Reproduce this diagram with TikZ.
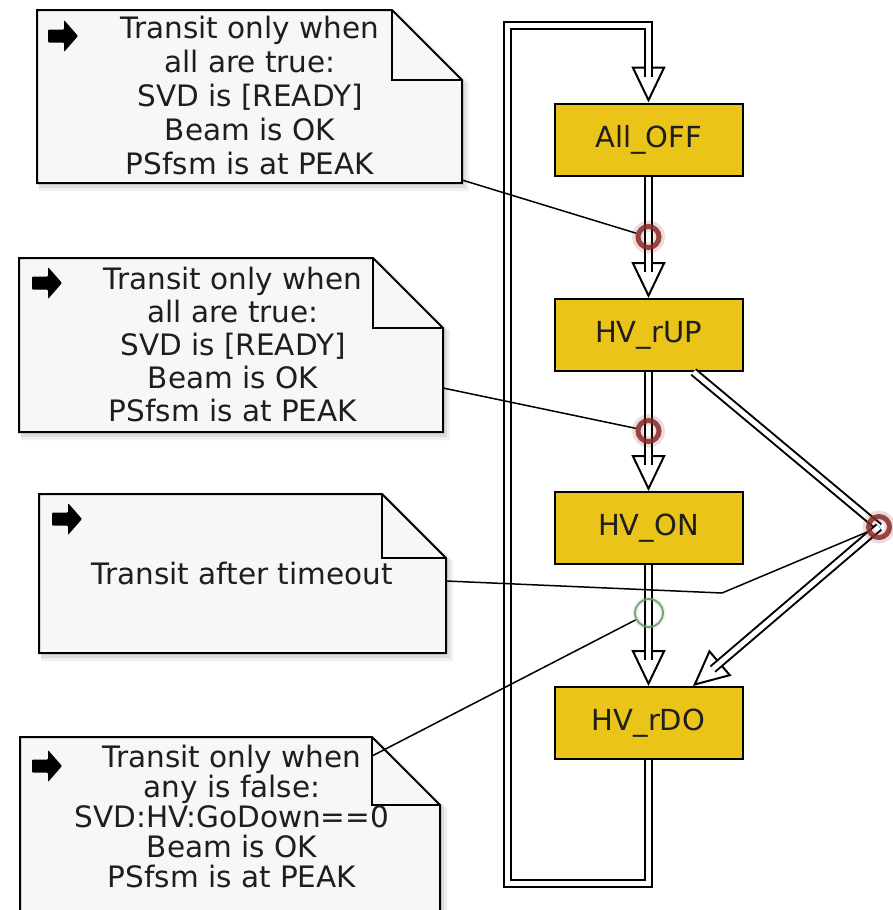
\documentclass[tikz,border=0pt]{standalone}
\usepackage{fontspec}
\setmainfont{DejaVu Sans}
\usetikzlibrary{calc,arrows.meta}
\definecolor{stateyellow}{RGB}{234,196,24}
\definecolor{notefill}{RGB}{247,247,247}
\definecolor{ringred}{RGB}{135,40,40}
\definecolor{ringgreen}{RGB}{105,155,105}
\definecolor{txt}{RGB}{30,30,30}
\newcommand\notebox[5]{%
  \fill[black,opacity=0.06] (#1+2,#2+2) -- (#3-#5+6,#2+2) -- (#3+7,#2+#5+3) -- (#3+7,#4+8) -- (#1+2,#4+8) -- cycle;
  \fill[black,opacity=0.08] (#1+2,#2+2) -- (#3-#5+4,#2+2) -- (#3+4,#2+#5+3) -- (#3+4,#4+5) -- (#1+2,#4+5) -- cycle;
  \filldraw[fill=notefill, draw=black, line width=2pt, line join=miter]
    (#1,#2) -- (#3-#5,#2) -- (#3,#2+#5) -- (#3,#4) -- (#1,#4) -- cycle;
  \draw[line width=2pt, line join=miter] (#3-#5,#2) |- (#3,#2+#5);
}
\newcommand\arrowicon[2]{%
  \fill[black, rounded corners=1pt] (#1-15,#2-6.5) -- (#1+1,#2-6.5) -- (#1+1,#2-16) -- (#1+15,#2) -- (#1+1,#2+16) -- (#1+1,#2+6.5) -- (#1-15,#2+6.5) -- cycle;
}
\begin{document}
\begin{tikzpicture}[x=1pt,y=-1pt,
  state/.style={draw=black, line width=2pt, fill=stateyellow, minimum width=188pt, minimum height=72pt, inner sep=0pt, font=\fontsize{29}{34}\selectfont, text=txt},
  notetext/.style={align=center, inner sep=0pt, text=txt},
  dbl/.style={draw=black, line width=2pt, double=white, double distance=5pt, line join=miter},
  tipx/.style={line width=0.4pt, -{Triangle[length=36pt,width=34pt,fill=white,line width=2pt]}},
  conn/.style={draw=black, line width=1.5pt},
  ringshape/.style={circle, minimum size=26pt, inner sep=0pt, outer sep=0pt},
  ringr/.style={circle, minimum size=21pt, inner sep=0pt, draw=ringred, line width=5pt, opacity=0.85},
  ringg/.style={circle, minimum size=28pt, inner sep=0pt, draw=ringgreen, line width=1.8pt, opacity=0.9}
]
\useasboundingbox (0,0) rectangle (893,910);

% notes
\notebox{37}{10}{462}{183}{70}
\notebox{19}{258}{443}{432}{70}
\notebox{39}{494}{446}{653}{64}
\notebox{20}{737}{440}{930}{68}
\arrowicon{63}{36}
\arrowicon{47}{283}
\arrowicon{67}{519}
\arrowicon{47}{766}
\node[notetext, font=\fontsize{29.5}{34}\selectfont] (t1) at (250,96) {Transit only when\\all are true:\\SVD is [READY]\\Beam is OK\\PSfsm is at PEAK};
\node[notetext, font=\fontsize{29.5}{33}\selectfont] (t2) at (233,344) {Transit only when\\all are true:\\SVD is [READY]\\Beam is OK\\PSfsm is at PEAK};
\node[notetext, font=\fontsize{29.5}{34}\selectfont] (t3) at (242,573) {Transit after timeout};
\node[notetext, font=\fontsize{29.5}{30}\selectfont] (t4) at (232,816) {Transit only when\\any is false:\\SVD:HV:GoDown==0\\Beam is OK\\PSfsm is at PEAK};

% states
\node[state] (alloff) at (648.5,139.5) {All\_OFF};
\node[state] (hvrup) at (648.5,335) {HV\_rUP};
\node[state] (hvon) at (648.5,528) {HV\_ON};
\node[state] (hvrdo) at (648.5,723) {HV\_rDO};

% ring positions
\path node[ringshape] (r1) at (648.5,237) {};
\path node[ringshape] (r2) at (648.5,431) {};
\path node[ringshape] (r3) at (879,527) {};
\path node[ringshape, minimum size=30pt] (g1) at (649,613) {};

% coordinates
\coordinate (lb) at (507,883);
\coordinate (lt) at (507,25.5);
\coordinate (top0) at ($(alloff.north)+(0,-26)$);
\coordinate (d1) at ($(hvrup.south)+(45,0)$);
\coordinate (d2) at ($(hvrdo.north)+(44.5,0)$);
\coordinate (n1e) at (462,180);
\coordinate (n2e) at (443,388);
\coordinate (n3e) at (446,581);
\coordinate (n3b) at (722,593);
\coordinate (n4e) at (372,756);

% arrow heads first, double shafts run into them
\draw[tipx] ($(alloff.north)+(0,-36)$) -- (alloff.north);
\draw[tipx] ($(hvrup.north)+(0,-36)$) -- (hvrup.north);
\draw[tipx] ($(hvon.north)+(0,-36)$) -- (hvon.north);
\draw[tipx] ($(hvrdo.north)+(0,-36)$) -- (hvrdo.north);
\draw[tipx] ($(d2)!36pt!(r3.center)$) -- (d2);

% loop
\draw[dbl] (hvrdo.south) |- (lb) -- (lt) -| (top0);

% vertical transitions
\draw[dbl] (alloff.south) -- ($(hvrup.north)+(0,-26)$);
\draw[dbl] (hvrup.south) -- ($(hvon.north)+(0,-26)$);
\draw[dbl] (hvon.south) -- ($(hvrdo.north)+(0,-26)$);

% diagonal transition
\draw[dbl] (d1) -- (r3.center);
\draw[dbl, shorten >=26pt] (r3.center) -- (d2);

% note connectors
\draw[conn] (n1e) -- (r1);
\draw[conn] (n2e) -- (r2);
\draw[conn] (n3e) -- (n3b) -- (r3);
\draw[conn] (n4e) -- (g1);

% rings
\foreach \r in {r1,r2,r3}{
  \draw[ringred, line width=11pt, opacity=0.16] (\r.center) circle (11pt);
  \node[ringr] at (\r.center) {};
}
\draw[ringgreen, line width=5pt, opacity=0.15] (g1.center) circle (14pt);
\node[ringg] at (g1.center) {};
\end{tikzpicture}
\end{document}
